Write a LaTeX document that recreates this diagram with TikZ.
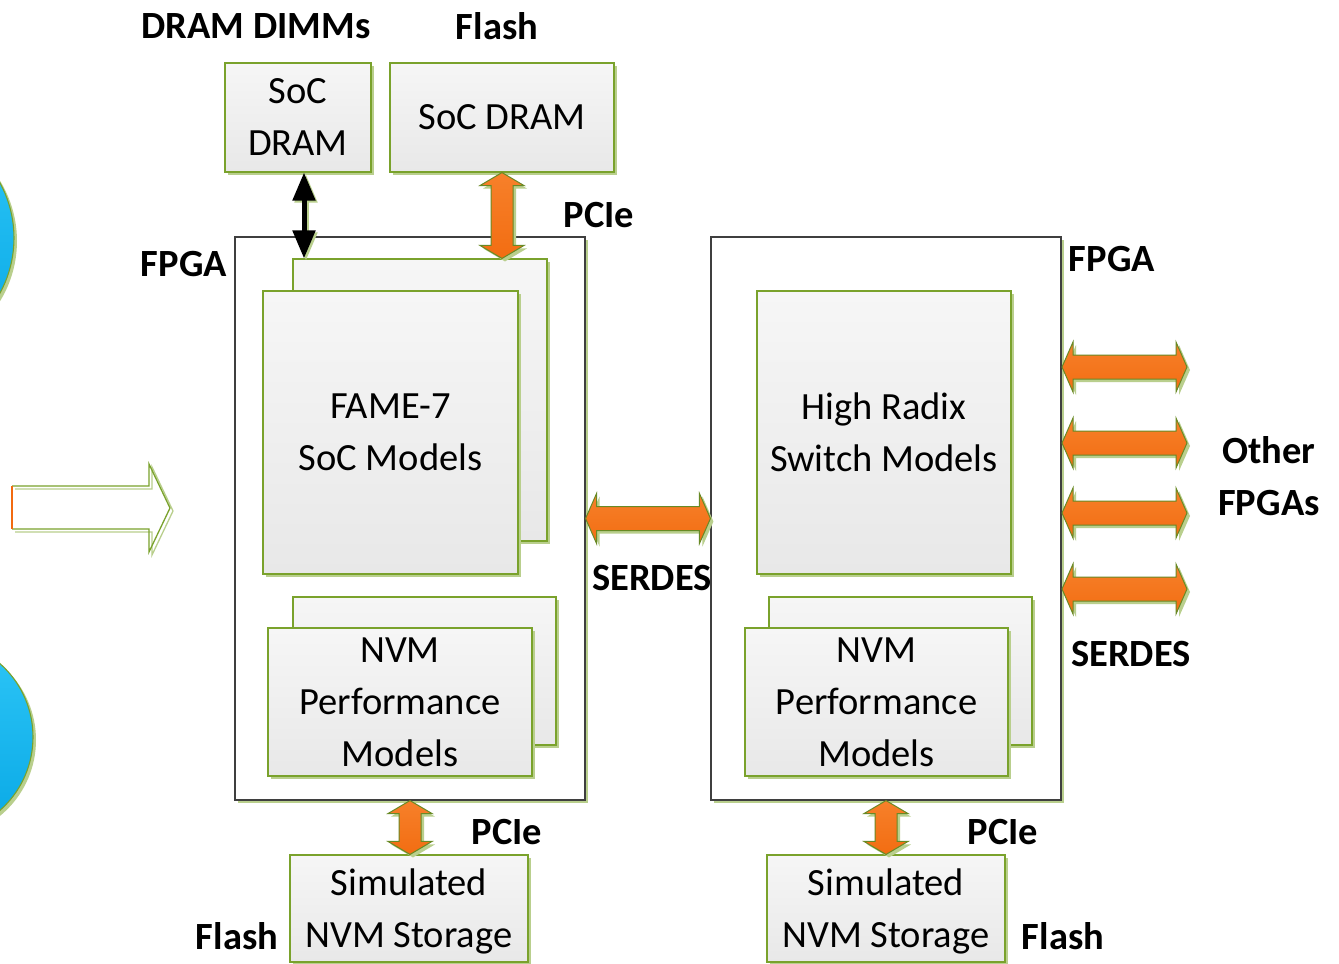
\documentclass[tikz,border=0pt]{standalone}
\usepackage{fontspec}
\setmainfont{Carlito}
\usetikzlibrary{shadows,calc,arrows.meta}

\definecolor{edgegreen}{HTML}{7AA22C}
\definecolor{shadegreen}{HTML}{B9CF8D}
\definecolor{boxtop}{HTML}{F6F6F6}
\definecolor{boxbot}{HTML}{E8E8E8}
\definecolor{orgtop}{HTML}{F7802A}
\definecolor{orgbot}{HTML}{F26D12}
\definecolor{skytop}{HTML}{2EC6F7}
\definecolor{skybot}{HTML}{08A8E5}
\definecolor{framegray}{HTML}{3F3F3F}
\definecolor{stubred}{HTML}{F26A10}

\begin{document}
\begin{tikzpicture}[x=1pt,y=-1pt,
  greenshadow/.style={drop shadow={shadow xshift=3pt,shadow yshift=-3pt,fill=shadegreen,opacity=1}},
  txt/.style={font=\fontsize{38.5}{52}\selectfont},
  lbl/.style={font=\fontsize{38.5}{52}\selectfont\bfseries, inner sep=0pt},
  box/.style={draw=edgegreen, line width=1.1pt, top color=boxtop, bottom color=boxbot,
              greenshadow, align=center, inner sep=0pt, txt},
  fpga/.style={draw=framegray, line width=1.1pt, fill=white, greenshadow, inner sep=0pt},
  orangebar/.style={draw=edgegreen!85!black, line width=1pt, top color=orgtop,
                    bottom color=orgbot, greenshadow},
  vdouble/.style={to path={let \p1=(\tikztostart), \p2=(\tikztotarget) in
    (\x1,\y1) -- ({\x1+22pt},{\y1-13pt}) -- ({\x1+11pt},{\y1-13pt})
    -- ({\x1+11pt},{\y2+13pt}) -- ({\x1+22pt},{\y2+13pt}) -- (\x1,\y2)
    -- ({\x1-22pt},{\y2+13pt}) -- ({\x1-11pt},{\y2+13pt})
    -- ({\x1-11pt},{\y1-13pt}) -- ({\x1-22pt},{\y1-13pt}) -- cycle}},
  hdouble/.style={to path={let \p1=(\tikztostart), \p2=(\tikztotarget) in
    (\x1,\y1) -- ({\x1+11pt},{\y1+25pt}) -- ({\x1+11pt},{\y1+12pt})
    -- ({\x2-11pt},{\y1+12pt}) -- ({\x2-11pt},{\y1+25pt}) -- (\x2,\y1)
    -- ({\x2-11pt},{\y1-25pt}) -- ({\x2-11pt},{\y1-12pt})
    -- ({\x1+11pt},{\y1-12pt}) -- ({\x1+11pt},{\y1-25pt}) -- cycle}},
  blackbi/.style={line width=5pt, {Triangle[length=28pt,width=22pt]}-{Triangle[length=28pt,width=22pt]},
                  preaction={draw=shadegreen, line width=5pt, transform canvas={shift={(2pt,-2pt)}}}},
  ball/.style={draw=edgegreen, line width=1.1pt, top color=skytop, bottom color=skybot, greenshadow}
]
\clip (0,0) rectangle (1339,964);
\fill[white] (0,0) rectangle (1339,964);

% partly visible circles on the left
\draw[ball] (-101,238) circle[radius=115];
\draw[ball] (-65,737) circle[radius=98];

% hollow arrow on the left
\draw[shadegreen, line width=1.3pt, shift={(3,3)}]
  (12,486) -- (149,486) -- (149,464) -- (170,508) -- (149,552) -- (149,529) -- (12,529);
\draw[edgegreen, line width=1.3pt]
  (12,486) -- (149,486) -- (149,464) -- (170,508) -- (149,552) -- (149,529) -- (12,529);
\draw[stubred, line width=1.5pt] (12,486) -- (12,529);

% memories on top
\node[box, minimum width=146, minimum height=109] (dimm) at (298,117.5) {SoC\\DRAM};
\node[box, minimum width=224, minimum height=109] (flash) at (502,117.5) {SoC DRAM};

% FPGA frames
\node[fpga, minimum width=350, minimum height=563] (fpgaL) at (410,518.5) {};
\node[fpga, minimum width=350, minimum height=563] (fpgaR) at (886,518.5) {};

% left FPGA contents
\node[box, minimum width=254, minimum height=282] (fameB) at (420,400) {};
\node[box, minimum width=255, minimum height=283] (fameF) at (390.5,432.5) {FAME-7\\SoC Models};
\node[box, minimum width=263, minimum height=148] (nvmLB) at (424.5,671) {};
\node[box, minimum width=264, minimum height=148] (nvmLF) at (400,702) {NVM\\Performance\\Models};

% right FPGA contents
\node[box, minimum width=254, minimum height=283] (hrs) at (884,432.5) {High Radix\\Switch Models};
\node[box, minimum width=263, minimum height=148] (nvmRB) at (900.5,671) {};
\node[box, minimum width=263, minimum height=148] (nvmRF) at (876.5,702) {NVM\\Performance\\Models};

% storage below
\node[box, minimum width=238, minimum height=107] (simL) at (409,908.5) {Simulated\\NVM Stora\smash{g}e};
\node[box, minimum width=238, minimum height=107] (simR) at (886,908.5) {Simulated\\NVM Stora\smash{g}e};

% links
\coordinate (blkA) at ($(dimm.south)+(6,0)$);
\coordinate (blkB) at (blkA |- fameB.north);
\draw[blackbi] (blkA) -- (blkB);

\draw[orangebar] (flash.south) to[vdouble] (flash.south |- fameB.north);
\draw[orangebar] (fpgaL.east) to[hdouble] (fpgaR.west);
\draw[orangebar] (fpgaL.south) to[vdouble] (fpgaL.south |- simL.north);
\draw[orangebar] (fpgaR.south) to[vdouble] (fpgaR.south |- simR.north);

\coordinate (o1a) at (1062,367); \coordinate (o1b) at (1187,367);
\coordinate (o2a) at (1062,443); \coordinate (o2b) at (1187,443);
\coordinate (o3a) at (1062,513); \coordinate (o3b) at (1187,513);
\coordinate (o4a) at (1062,589); \coordinate (o4b) at (1187,589);
\draw[orangebar] (o1a) to[hdouble] (o1b);
\draw[orangebar] (o2a) to[hdouble] (o2b);
\draw[orangebar] (o3a) to[hdouble] (o3b);
\draw[orangebar] (o4a) to[hdouble] (o4b);

% labels
\node[lbl] (lDimm) at (256,26) {DRAM DIMMs};
\node[lbl] (lFlashTop) at (497,26) {Flash};
\node[lbl] (lPcieTop) at (599,215) {PCIe};
\node[lbl] (lFpgaL) at (184,264) {FPGA};
\node[lbl] (lFpgaR) at (1112,259) {FPGA};
\node[lbl] (lSerdes) at (652,578) {SERDES};
\node[lbl, align=center] (lOther) at (1269,476) {Other\\FPGAs};
\node[lbl] (lSerdesR) at (1131,654) {SERDES};
\node[lbl] (lPcieL) at (507,832) {PCIe};
\node[lbl] (lPcieR) at (1003,832) {PCIe};
\node[lbl] (lFlashL) at (237,936) {Flash};
\node[lbl] (lFlashR) at (1063,936) {Flash};
\end{tikzpicture}
\end{document}
